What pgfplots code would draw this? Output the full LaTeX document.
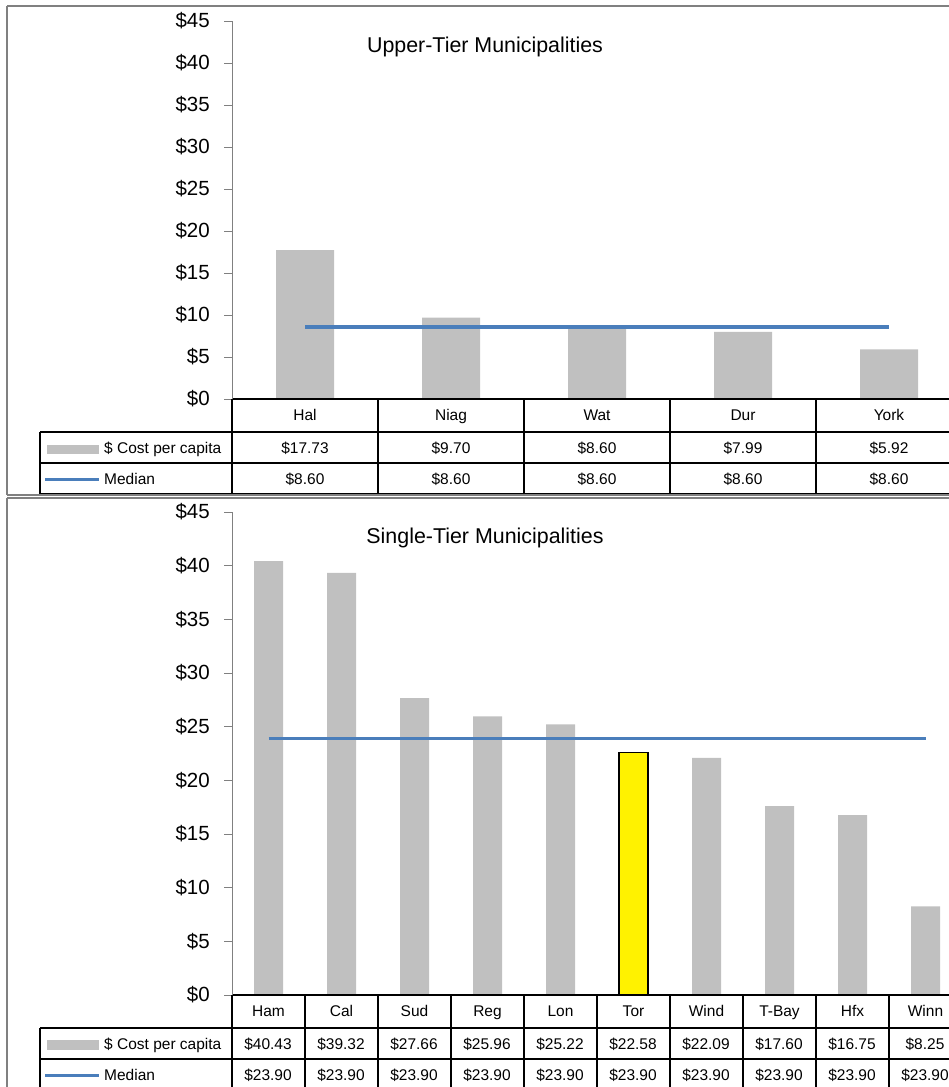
\documentclass[border=0pt]{standalone}
\usepackage{pgfplots}
\pgfplotsset{compat=1.18}
\usepackage{fontspec}
\setmainfont{Liberation Sans}
\definecolor{bargray}{HTML}{C0C0C0}
\definecolor{medblue}{HTML}{4A7EBB}
\definecolor{framegray}{HTML}{808080}
\newcommand\tabfont{\fontsize{15.5}{18}\selectfont}
\newcommand\bigfont{\fontsize{20.5}{24}\selectfont}
\newcommand\titlefont{\fontsize{21.4}{25}\selectfont}
\begin{document}
\begin{tikzpicture}[x=1pt,y=1pt]
\useasboundingbox (0,0) rectangle (949,-1087);
\clip (0,0) rectangle (949,-1087);
\pgfplotsset{
 panel/.style={
  scale only axis, width=730pt,
  xmin=-0.5, ymin=0, ymax=45,
  axis x line=bottom, axis y line=left,
  axis line style={-},
  x axis line style={draw=black, line width=1.2pt},
  y axis line style={draw=framegray, line width=1pt},
  ytick={0,5,...,45},
  yticklabel={\$\pgfmathprintnumber{\tick}},
  /pgf/number format/assume math mode=true,
  tick align=outside,
  major tick length=8pt,
  ytick style={draw=framegray, line width=1pt},
  xtick=data, x tick style={draw=none},
  yticklabel style={font=\bigfont, anchor=east, inner sep=0pt, xshift=-14pt},
  xticklabel style={font=\tabfont, anchor=base, yshift=-13.5pt, inner sep=0pt},
  clip=false, axis on top,
 }
}
% ---------- top panel ----------
\begin{axis}[panel, at={(232pt,-399pt)}, anchor=south west, height=378pt, xmax=4.5,
  xticklabels={Hal,Niag,Wat,Dur,York}]
\addplot[ybar, bar width=58pt, bar shift=0pt, fill=bargray, draw=none]
  coordinates {(0,17.73)(1,9.70)(2,8.60)(3,7.99)(4,5.92)};
\addplot[medblue, line width=3.5pt] coordinates {(0,8.60)(4,8.60)};
\end{axis}
% ---------- bottom panel ----------
\begin{axis}[panel, at={(232pt,-995pt)}, anchor=south west, height=483pt, xmax=9.5,
  xticklabels={Ham,Cal,Sud,Reg,Lon,Tor,Wind,T-Bay,Hfx,Winn}]
\addplot[ybar, bar width=29pt, bar shift=0pt, fill=bargray, draw=none]
  coordinates {(0,40.43)(1,39.32)(2,27.66)(3,25.96)(4,25.22)(5,0)(6,22.09)(7,17.60)(8,16.75)(9,8.25)};
\addplot[ybar, bar width=29pt, bar shift=0pt, fill=yellow, draw=black, line width=1.5pt]
  coordinates {(5,22.58)};
\addplot[medblue, line width=3.5pt] coordinates {(0,23.90)(9,23.90)};
\end{axis}
% titles
\node[font=\titlefont] at (485,-47) {Upper-Tier Municipalities};
\node[font=\titlefont] at (485,-538) {Single-Tier Municipalities};
% ---------- top table ----------
\begin{scope}[line width=1.2pt]
\foreach \i in {0,...,5} \draw (232+146*\i,-399) -- (232+146*\i,-494);
\draw (40,-432) -- (40,-494);
\foreach \yy in {-432,-463,-494} \draw (40,\yy) -- (970,\yy);
\end{scope}
\foreach \v [count=\i from 0] in {17.73,9.70,8.60,7.99,5.92}
  \node[font=\tabfont, anchor=base, inner sep=0pt] at (305+146*\i,-453) {\$\v};
\foreach \v [count=\i from 0] in {8.60,8.60,8.60,8.60,8.60}
  \node[font=\tabfont, anchor=base, inner sep=0pt] at (305+146*\i,-484) {\$\v};
\fill[bargray] (47,-445) rectangle (99,-454);
\draw[medblue, line width=3pt] (45,-479) -- (99,-479);
\node[font=\tabfont, anchor=base west, inner sep=0pt] at (104,-453) {\$ Cost per capita};
\node[font=\tabfont, anchor=base west, inner sep=0pt] at (104,-484) {Median};
% ---------- bottom table ----------
\begin{scope}[line width=1.2pt]
\foreach \i in {0,...,10} \draw (232+73*\i,-995) -- (232+73*\i,-1095);
\draw (40,-1028) -- (40,-1095);
\foreach \yy in {-1028,-1059,-1090} \draw (40,\yy) -- (970,\yy);
\end{scope}
\foreach \v [count=\i from 0] in {40.43,39.32,27.66,25.96,25.22,22.58,22.09,17.60,16.75,8.25}
  \node[font=\tabfont, anchor=base, inner sep=0pt] at (268+73*\i,-1049) {\$\v};
\foreach \i in {0,...,9}
  \node[font=\tabfont, anchor=base, inner sep=0pt] at (268+73*\i,-1080) {\$23.90};
\fill[bargray] (47,-1040) rectangle (99,-1050);
\draw[medblue, line width=3pt] (45,-1075) -- (99,-1075);
\node[font=\tabfont, anchor=base west, inner sep=0pt] at (104,-1049) {\$ Cost per capita};
\node[font=\tabfont, anchor=base west, inner sep=0pt] at (104,-1080) {Median};
% ---------- frames ----------
\draw[framegray, line width=2pt] (7,-6) -- (1000,-6);
\draw[framegray, line width=2pt] (7,-6) -- (7,-495);
\draw[framegray, line width=1.5pt] (7,-495) -- (1000,-495);
\draw[framegray, line width=1.5pt] (7,-498) -- (1000,-498);
\draw[framegray, line width=2pt] (7,-498) -- (7,-1100);
\end{tikzpicture}
\end{document}
